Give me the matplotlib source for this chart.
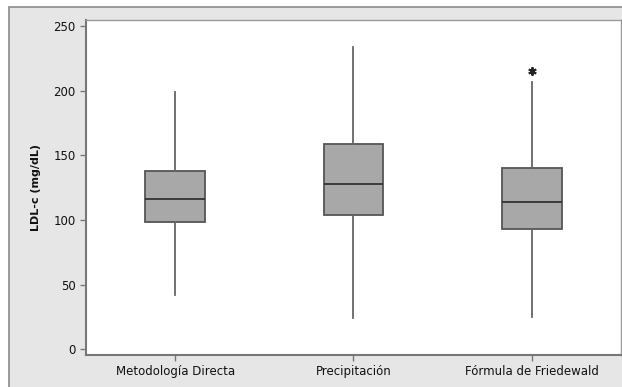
import matplotlib
matplotlib.use('Agg')
import matplotlib.pyplot as plt
from matplotlib.patches import Rectangle

# values (mg/dL)
grupos = ['Metodología Directa', 'Precipitación', 'Fórmula de Friedewald']
bigote_inf = [42.0, 24.0, 25.2]
q1 = [98.4, 103.6, 93.2]
mediana = [116.2, 128.0, 113.8]
q3 = [138.0, 158.7, 140.1]
bigote_sup = [198.6, 233.4, 206.8]
atipicos = [[], [], [215.3]]

fig = plt.figure(figsize=(6.22, 3.87), dpi=100)
fig.patch.set_facecolor('white')
# gray Minitab-like frame, kept behind the axes (right and bottom run off the image)
fig.patches.append(Rectangle((9 / 622, -0.05), 1.1, 1.05 - 7 / 387, transform=fig.transFigure,
                             facecolor='#e6e6e6', edgecolor='#8a8a8a', linewidth=1.2, zorder=-10))

ax = fig.add_axes([86 / 622, 1 - 355 / 387, 535 / 622, 335 / 387])
ax.set_facecolor('white')

stats = []
for i in range(len(grupos)):
    stats.append({'label': grupos[i], 'whislo': bigote_inf[i], 'q1': q1[i], 'med': mediana[i],
                  'q3': q3[i], 'whishi': bigote_sup[i], 'fliers': atipicos[i]})

ax.bxp(stats, positions=[1, 2, 3], widths=0.336, patch_artist=True, showcaps=False,
       boxprops=dict(facecolor='#a8a8a8', edgecolor='#555555', linewidth=1.3),
       medianprops=dict(color='#333333', linewidth=1.3),
       whiskerprops=dict(color='#666666', linewidth=1.3),
       flierprops=dict(marker=(6, 2, 0), markersize=6, markeredgewidth=1.4,
                       markeredgecolor='#222222', linestyle='none'))

ax.set_xlim(0.5, 3.5)
ax.set_ylim(-4.4, 254.5)
ax.set_yticks([0, 50, 100, 150, 200, 250])
ax.set_ylabel('LDL-c (mg/dL)', fontsize=8, fontweight='bold', labelpad=9, color='#111111')

for s in ['top', 'right']:
    ax.spines[s].set_color('#9a9a9a')
    ax.spines[s].set_linewidth(1.0)
for s in ['left', 'bottom']:
    ax.spines[s].set_color('#777777')
    ax.spines[s].set_linewidth(1.5)
ax.tick_params(axis='both', direction='out', length=4, width=1, color='#777777',
               labelsize=8.5, labelcolor='#111111')

fig.savefig('out.png', dpi=100)
